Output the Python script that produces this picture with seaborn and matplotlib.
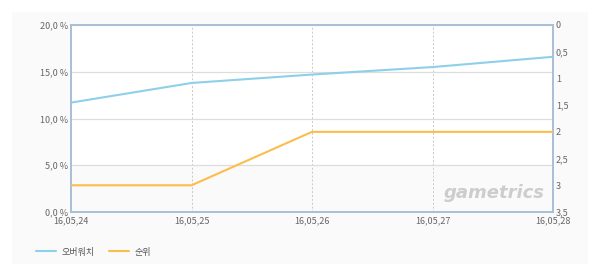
import matplotlib
matplotlib.use("Agg")
import matplotlib.pyplot as plt
import seaborn as sns
import pandas as pd
from matplotlib.patches import Rectangle
from matplotlib.lines import Line2D

dates = ["16,05,24", "16,05,25", "16,05,26", "16,05,27", "16,05,28"]
share = [11.7, 13.8, 14.7, 15.5, 16.6]   # 오버워치 (%)
rank = [3, 3, 2, 2, 2]                   # 순위
left_ticks = [0, 5, 10, 15, 20]
right_ticks = [0, 0.5, 1, 1.5, 2, 2.5, 3, 3.5]

sns.set_theme(style="white")
plt.rcParams['font.family'] = ['Noto Sans CJK KR', 'DejaVu Sans']

BLUE = "#8ecfea"
ORANGE = "#fbbd4c"
SPINE = "#a9bfd6"
TXT = "#666666"

df = pd.DataFrame({"idx": range(len(dates)), "share": share, "rank": rank})

fig = plt.figure(figsize=(6.0, 2.76), dpi=100)
fig.patch.set_facecolor("white")
fig.add_artist(Rectangle((12/600, 12/276), 576/600, 252/276, transform=fig.transFigure,
                         facecolor="#fafafa", edgecolor="none", zorder=-10))

ax = fig.add_axes([71/600, 1-212/276, 482/600, 187/276])
ax.set_facecolor("white")
ax.axhspan(0, 5, color="#fafafa", zorder=0, lw=0)

sns.lineplot(data=df, x="idx", y="share", ax=ax, color=BLUE, lw=1.5, zorder=3)
ax.set_xlim(0, len(dates)-1)
ax.set_ylim(0, 20)
ax.set_yticks(left_ticks)
ax.set_yticklabels([f"{v:.1f}".replace(".", ",") + " %" for v in left_ticks])
ax.set_xticks(range(len(dates)))
ax.set_xticklabels(dates)
ax.set_xlabel("")
ax.set_ylabel("")
ax.grid(axis="y", color="#dddddd", lw=0.9, ls="-")
ax.grid(axis="x", color="#c8c8c8", lw=0.7, ls=(0, (2, 2)))
ax.set_axisbelow(True)
ax.tick_params(axis="both", length=0, labelsize=6.5, colors=TXT, pad=2)
ax.tick_params(axis="x", pad=3)

ax2 = ax.twinx()
sns.lineplot(data=df, x="idx", y="rank", ax=ax2, color=ORANGE, lw=1.5, zorder=3)
ax2.set_ylim(3.5, 0)
ax2.set_yticks(right_ticks)
ax2.set_yticklabels([(f"{v:g}").replace(".", ",") for v in right_ticks])
ax2.set_ylabel("")
ax2.tick_params(axis="y", length=0, labelsize=6.5, colors=TXT, pad=2)

for a in (ax, ax2):
    for s in a.spines.values():
        s.set_color(SPINE)
        s.set_linewidth(1.2)

ax.text(0.983, 0.1, "gametrics", transform=ax.transAxes, ha="right", va="center",
        fontsize=13, color="#cdcdcd", style="italic", fontweight="bold",
        family=["DejaVu Sans"], zorder=1)

handles = [Line2D([], [], color=BLUE, lw=1.5), Line2D([], [], color=ORANGE, lw=1.5)]
fig.legend(handles, ["오버워치", "순위"], loc="center left", bbox_to_anchor=(28/600, 1-252/276),
           ncol=2, frameon=False, fontsize=6.5, handlelength=2.2, columnspacing=1.6,
           handletextpad=0.6, labelcolor="#555555")

fig.savefig("out.png", dpi=100, facecolor="white")
